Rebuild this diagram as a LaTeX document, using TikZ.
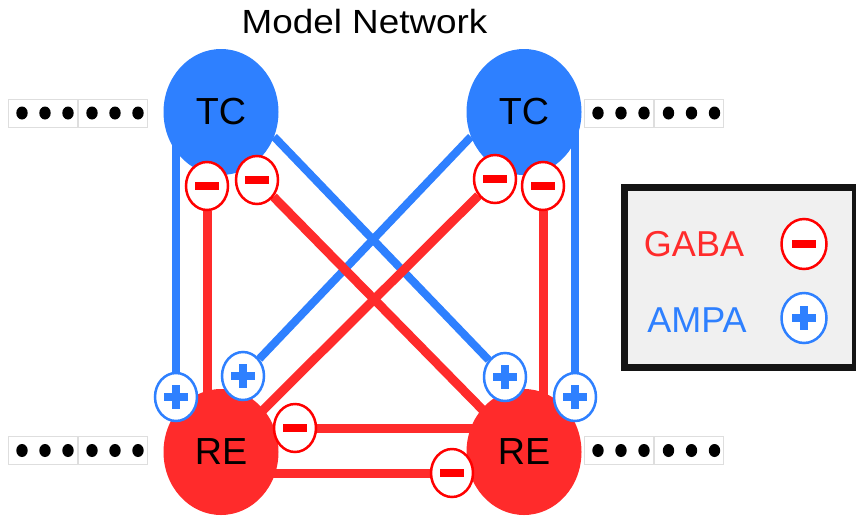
\documentclass[tikz,border=0pt]{standalone}
\usepackage{fontspec}
\setmainfont{Liberation Sans}
\usetikzlibrary{shapes.geometric}
\definecolor{cblue}{RGB}{46,128,255}
\definecolor{cred}{RGB}{255,43,43}
\definecolor{sred}{RGB}{255,0,0}
\definecolor{lgfill}{RGB}{240,240,240}
\definecolor{lgborder}{RGB}{20,20,20}
\pgfdeclarelayer{bg}
\pgfsetlayers{bg,main}
\newcommand{\minusbar}{\textcolor{sred}{\rule{24pt}{8pt}}}
\newcommand{\plusmark}{\textcolor{cblue}{\rule[-4pt]{24pt}{8pt}\hspace{-16pt}\rule[-12pt]{8pt}{24pt}\hspace{8pt}}}
\tikzset{
  neuron/.style={ellipse, minimum width=115pt, minimum height=126pt, inner sep=0pt,
    font=\fontsize{37.7}{40}\selectfont, text=black},
  tcn/.style={neuron, fill=cblue},
  ren/.style={neuron, fill=cred},
  syn/.style={ellipse, fill=white, line width=2.5pt, minimum width=42pt, minimum height=48pt, inner sep=0pt},
  inh/.style={syn, draw=sred},
  exc/.style={syn, draw=cblue},
  ampaline/.style={cblue, line width=8pt},
  gabaline/.style={cred, line width=9pt},
  dotbox/.style={rectangle, draw=black!13, line width=1pt, minimum width=69pt, minimum height=28pt,
    inner sep=0pt, path picture={
      \foreach \dd in {-20.5,2.5,25.5}
        \fill[black] ([xshift=\dd pt]path picture bounding box.center) ellipse [x radius=5.7pt, y radius=6.5pt];
    }},
  legtext/.style={font=\fontsize{36}{40}\selectfont, anchor=base, inner sep=0pt},
}
\begin{document}
\begin{tikzpicture}[x=1pt,y=-1pt]
\useasboundingbox (0,0) rectangle (856,517);
\begin{pgfonlayer}{bg}
  \fill[white] (0,0) rectangle (856,517);
\end{pgfonlayer}

% title
\node[font=\fontsize{33.5}{36}\selectfont, anchor=base, inner sep=0pt] (title) at (364.5,33) {\scalebox{1.1}[1]{Model Network}};

% dot boxes
\node[dotbox] (dTL1) at (42.5,113) {};
\node[dotbox] (dTL2) at (112.5,113) {};
\node[dotbox] (dTR1) at (618.5,113) {};
\node[dotbox] (dTR2) at (689,113) {};
\node[dotbox] (dBL1) at (42.5,450.5) {};
\node[dotbox] (dBL2) at (112.5,450.5) {};
\node[dotbox] (dBR1) at (618.5,450.5) {};
\node[dotbox] (dBR2) at (689,450.5) {};

% neurons
\node[tcn] (tcL) at (221,112) {TC};
\node[tcn] (tcR) at (524,112) {TC};
\node[ren] (reL) at (221,452) {RE};
\node[ren] (reR) at (524,452) {RE};

% synapses
\node[inh] (m1) at (207,186) {\minusbar};
\node[inh] (m2) at (257,180) {\minusbar};
\node[inh] (m3) at (495,179) {\minusbar};
\node[inh] (m4) at (543,186) {\minusbar};
\node[inh] (m5) at (295,428) {\minusbar};
\node[inh] (m6) at (452,473) {\minusbar};
\node[exc] (p1) at (176,397) {\plusmark};
\node[exc] (p2) at (243,376) {\plusmark};
\node[exc] (p3) at (505,377) {\plusmark};
\node[exc] (p4) at (575,397) {\plusmark};

% connectors
\begin{pgfonlayer}{bg}
  \draw[ampaline] (p1) -- (p1 |- tcL.center);
  \draw[ampaline] (p2) -- (tcR.-155);
  \draw[ampaline] (p3) -- (tcL.-25);
  \draw[ampaline] (p4) -- (p4 |- tcR.center);
  \draw[gabaline] (m1) -- (m1 |- reL.center);
  \draw[gabaline] (m2) -- (reR.center);
  \draw[gabaline] (m3) -- (reL.center);
  \draw[gabaline] (m4) -- (m4 |- reR.center);
  \draw[gabaline] (m5) -- (m5 -| reR.center);
  \draw[gabaline] (reL.center |- m6) -- (m6);
\end{pgfonlayer}

% legend
\node[draw=lgborder, fill=lgfill, line width=7pt, minimum width=231pt, minimum height=180pt, inner sep=0pt] (legend) at (740,277.5) {};
\node[legtext, text=cred] (gaba) at (694,256) {GABA};
\node[legtext, text=cblue] (ampa) at (697,332) {AMPA};
\node[inh, minimum width=45pt, minimum height=50pt] (lgm) at (804,244) {\minusbar};
\node[exc, minimum width=45pt, minimum height=50pt] (lgp) at (804,318) {\plusmark};
\end{tikzpicture}
\end{document}
